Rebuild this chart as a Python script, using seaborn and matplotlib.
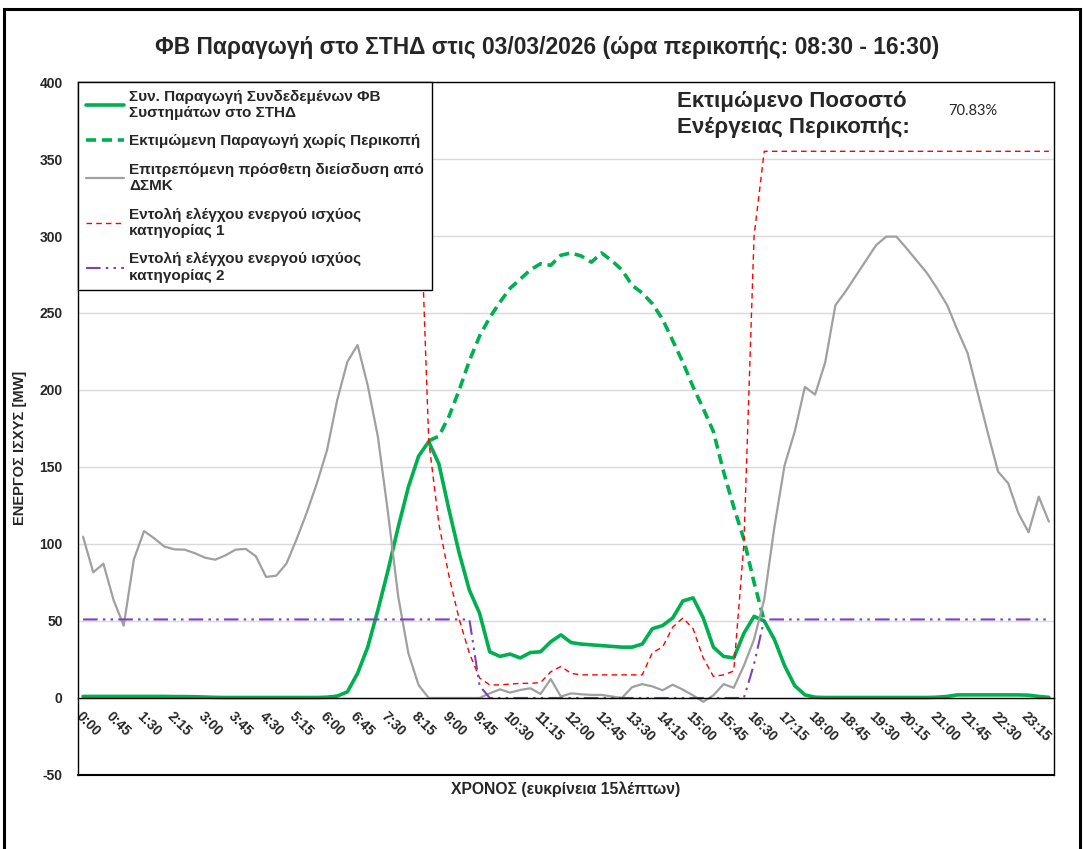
import numpy as np
import pandas as pd
import seaborn as sns
import matplotlib.pyplot as plt
from matplotlib.patches import Rectangle

# 15-minute time slots 0:00 ... 23:45
times = [f"{h}:{m:02d}" for h in range(24) for m in (0, 15, 30, 45)]

# Actual PV production of connected systems (MW)
pv_actual = [
    1.0, 1.0, 1.0, 1.0, 1.0, 1.0, 1.0, 1.0, 1.0, 0.9, 0.9, 0.8,
    0.6, 0.4, 0.3, 0.3, 0.3, 0.3, 0.3, 0.3, 0.3, 0.3, 0.3, 0.3,
    0.5, 1.2, 4, 16, 33, 57, 83, 111, 137, 157, 166.5, 152,
    122, 94, 70, 55, 30, 27, 28.5, 26, 29.5, 30, 36.5, 41,
    36, 35, 34.5, 34, 33.5, 33, 33, 35, 45, 47, 52, 63,
    65, 52, 33, 27, 26, 42, 53, 50, 38, 21, 8, 2,
    0.5, 0.3, 0.3, 0.3, 0.3, 0.3, 0.3, 0.3, 0.3, 0.3, 0.3, 0.3,
    0.5, 1.0, 2, 2, 2, 2, 2, 2, 2, 1.8, 1.0, 0.4,
]

# Estimated production without curtailment (MW)
pv_estimated = [np.nan] * 34 + [
    167, 170, 183, 200, 219, 235, 247, 257, 266, 272, 278, 282,
    281, 287.5, 289, 287, 283, 289, 284, 278, 268, 263, 256, 246,
    232, 218, 202, 188, 173, 147, 124, 103, 75, 50,
] + [np.nan] * 28

# Allowed additional penetration from DSMK (MW)
dsmk_margin = [
    104.7, 81.6, 87.2, 63.6, 47, 90, 108.4, 103.7, 98.3, 96.5, 96.3, 94,
    91.1, 89.8, 92.6, 96.3, 96.8, 92, 78.6, 79.4, 87.2, 103, 120.3, 139.4,
    161, 193.5, 218.4, 229.2, 203, 169.7, 120, 65.8, 29, 8.4, 0, 0,
    0, 0, 0, 0, 3, 5.6, 3.5, 5.2, 6.3, 2.6, 12.3, 0.9,
    3, 2.4, 2, 2, 1, 0, 7, 9, 7.5, 5, 8.6, 5.4,
    1.7, -2.5, 1.7, 9, 6.6, 21, 38, 64, 111, 151, 173, 202,
    197, 218, 255, 264, 274, 284, 294, 299.6, 299.6, 292, 284, 276,
    266, 255, 239, 224, 198, 172, 147, 139.4, 120, 107.6, 130.7, 114.5,
]

# Active power control command, category 1 (MW)
cmd_cat1 = [355] * 34 + [
    167, 113, 79, 51, 29, 13, 8.5, 8.5, 9, 9.5, 9.5, 10,
    17, 20.5, 16, 15, 15, 15, 15, 15, 15, 15, 29.5, 33,
    46, 52, 45, 26, 14, 15, 17.5, 100, 300, 355,
] + [355] * 28

# Active power control command, category 2 (MW)
cmd_cat2 = [51] * 39 + [8] + [0] * 26 + [22] + [51] * 29

df = pd.DataFrame({
    "slot": np.arange(len(times)),
    "actual": pv_actual,
    "estimated": pv_estimated,
    "dsmk": dsmk_margin,
    "cat1": cmd_cat1,
    "cat2": cmd_cat2,
})

sns.set_style("white")
plt.rcParams["font.family"] = ["Liberation Sans", "DejaVu Sans"]

fig = plt.figure(figsize=(10.83, 8.49), dpi=100)
ax = fig.add_axes([0.0720, 0.0872, 0.9012, 0.8162])

green = "#00B050"
sns.lineplot(data=df, x="slot", y="actual", ax=ax, color=green, linewidth=2.6,
             errorbar=None, label="Συν. Παραγωγή Συνδεδεμένων ΦΒ\nΣυστημάτων στο ΣΤΗΔ")
sns.lineplot(data=df, x="slot", y="estimated", ax=ax, color=green, linewidth=2.6,
             linestyle=(0, (2.8, 1.6)), errorbar=None,
             label="Εκτιμώμενη Παραγωγή χωρίς Περικοπή")
sns.lineplot(data=df, x="slot", y="dsmk", ax=ax, color="#A0A0A0", linewidth=1.6,
             errorbar=None, label="Επιτρεπόμενη πρόσθετη διείσδυση από\nΔΣΜΚ")
sns.lineplot(data=df, x="slot", y="cat1", ax=ax, color="#FF0000", linewidth=1.0,
             linestyle=(0, (4, 3)), errorbar=None,
             label="Εντολή ελέγχου ενεργού ισχύος\nκατηγορίας 1")
sns.lineplot(data=df, x="slot", y="cat2", ax=ax, color="#7B45B5", linewidth=1.5,
             linestyle=(0, (7, 2.5, 1.2, 2.5, 1.2, 2.5)), errorbar=None,
             label="Εντολή ελέγχου ενεργού ισχύος\nκατηγορίας 2")

# spines first (moving a spine resets the ticks)
for s in ax.spines.values():
    s.set_color("black")
    s.set_linewidth(1)
ax.spines["bottom"].set_position(("data", 0))
ax.axhline(-50, color="black", linewidth=1.5, clip_on=False)

# axes
ax.set_xlim(-0.5, len(times) - 0.5)
ax.set_ylim(-50, 400)
ax.set_yticks(range(-50, 401, 50))
ax.set_yticklabels([str(v) for v in range(-50, 401, 50)], fontweight="bold", fontsize=10)
ax.set_xticks(range(0, len(times), 3))
ax.set_xticklabels(times[::3], rotation=-45, ha="left", va="top",
                   rotation_mode="anchor", fontweight="bold", fontsize=10)
ax.tick_params(axis="x", length=0, pad=8)
ax.tick_params(axis="y", length=0, pad=11)
ax.yaxis.grid(True, color="#D9D9D9", linewidth=1)
ax.xaxis.grid(False)
ax.set_axisbelow(True)

ax.set_ylabel("ΕΝΕΡΓΟΣ ΙΣΧΥΣ [MW]", fontweight="bold", fontsize=10.5)
ax.yaxis.set_label_coords(-0.052, 0.472)
ax.set_xlabel("ΧΡΟΝΟΣ (ευκρίνεια 15λέπτων)", fontweight="bold", fontsize=11.3)
ax.xaxis.set_label_coords(0.5, -0.009)

leg = ax.legend(loc="upper left", bbox_to_anchor=(0, 1), borderaxespad=0,
                fancybox=False, framealpha=1, edgecolor="black",
                prop={"weight": "bold", "size": 11}, handlelength=2.5,
                handletextpad=0.35, labelspacing=0.95, borderpad=0.5)
leg.get_frame().set_linewidth(1)

fig.text(0.505, 0.9446, "ΦΒ Παραγωγή στο ΣΤΗΔ στις 03/03/2026 (ώρα περικοπής: 08:30 - 16:30)",
         ha="center", va="center", fontsize=16.4, fontweight="bold")
fig.text(677 / 1083, 1 - 91 / 849, "Εκτιμώμενο Ποσοστό\nΕνέργειας Περικοπής:",
         ha="left", va="top", fontsize=16, fontweight="bold", linespacing=1.3)
fig.text(948 / 1083, 1 - 111 / 849, "70.83%", ha="left", va="center",
         fontsize=10.5, family="Lato")

fig.patches.append(Rectangle((4 / 1083, -0.02), 1076 / 1083, 1.02 - 9 / 849,
                             transform=fig.transFigure, fill=False,
                             edgecolor="black", linewidth=2.2))

fig.savefig("out.png", dpi=100, facecolor="white")
